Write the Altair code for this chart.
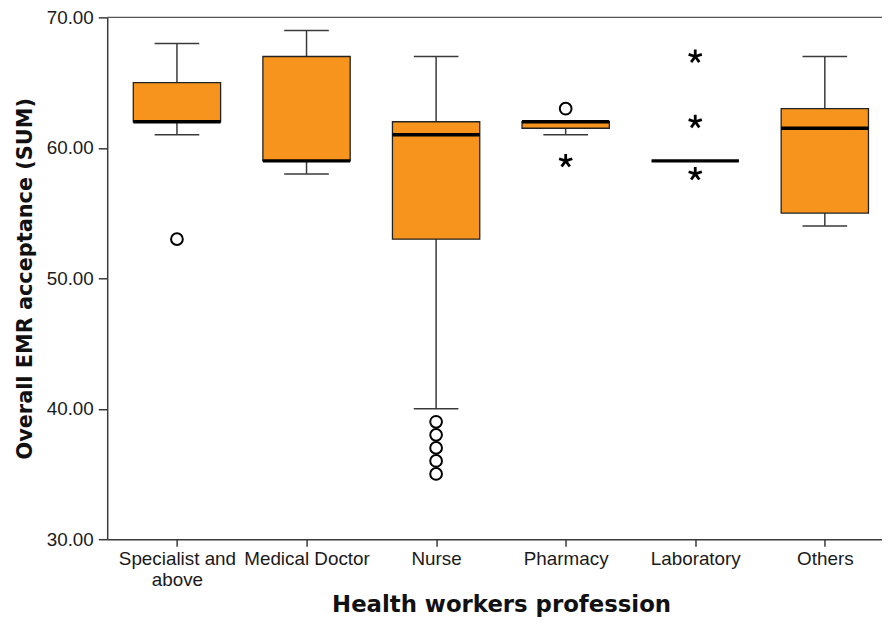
import json
import altair as alt
import pandas as pd

# ---- data ----
categories = ["Specialist and above", "Medical Doctor", "Nurse", "Pharmacy", "Laboratory", "Others"]
tick_labels = [["Specialist and", "above"], "Medical Doctor", "Nurse", "Pharmacy", "Laboratory", "Others"]
whisker_low = [61, 58, 40, 61, 59, 54]
q1 = [62, 59, 53, 61.5, 59, 55]
median = [62, 59, 61, 62, 59, 61.5]
q3 = [65, 67, 62, 62, 59, 63]
whisker_high = [68, 69, 67, 62, 59, 67]

outlier_group = ["Specialist and above", "Nurse", "Nurse", "Nurse", "Nurse", "Nurse", "Pharmacy"]
outlier_value = [53, 39, 38, 37, 36, 35, 63]

extreme_group = ["Pharmacy", "Laboratory", "Laboratory", "Laboratory"]
extreme_value = [59, 67, 62, 58]

idx = {c: i for i, c in enumerate(categories)}

box_df = pd.DataFrame({
    "group": categories,
    "pos": list(range(len(categories))),
    "lo": whisker_low, "q1": q1, "med": median, "q3": q3, "hi": whisker_high,
})
out_df = pd.DataFrame({"group": outlier_group, "value": outlier_value})
out_df["pos"] = out_df["group"].map(idx)
ext_df = pd.DataFrame({"group": extreme_group, "value": extreme_value})
ext_df["pos"] = ext_df["group"].map(idx)
frame_df = pd.DataFrame({"top": [70]})

# ---- styling ----
ORANGE = "#F7941D"
LINE = "#3a3a3a"
LABEL_FONT = "Liberation Sans"

x_scale = alt.Scale(domain=[-0.5, 5.403], nice=False, zero=False)
y_scale = alt.Scale(domain=[30, 70], nice=False, zero=False)

label_expr = json.dumps(tick_labels) + "[datum.value]"

x_axis = alt.Axis(
    title="Health workers profession",
    values=list(range(len(categories))),
    labelExpr=label_expr,
    grid=False,
    tickSize=7, tickColor=LINE, tickWidth=1.5,
    domainColor=LINE, domainWidth=1.5,
    labelFont=LABEL_FONT, labelFontSize=19, labelColor="#1a1a1a",
    labelPadding=4, labelLineHeight=21, labelAngle=0,
    labelAlign="center", labelBaseline="top", labelFlush=False, labelOverlap=False,
    titleFont="DejaVu Sans", titleFontSize=23, titleFontWeight="bold", titleColor="#111",
    titleX=397, titleY=73, titleBaseline="alphabetic", titleAlign="center",
)
y_axis = alt.Axis(
    title="Overall EMR acceptance (SUM)",
    values=[30, 40, 50, 60, 70],
    format=".2f",
    grid=False,
    tickSize=9, tickColor=LINE, tickWidth=1.5,
    domainColor=LINE, domainWidth=1.5,
    labelFont=LABEL_FONT, labelFontSize=19, labelColor="#1a1a1a", labelPadding=5,
    titleFont="DejaVu Sans", titleFontSize=21, titleFontWeight="bold", titleColor="#111",
    titleX=-72, titleY=263, titleBaseline="bottom", titleAlign="center",
)

base = alt.Chart(box_df)
x_enc = alt.X("pos:Q", scale=x_scale, axis=x_axis)

whiskers = base.mark_rule(color=LINE, strokeWidth=1.5).encode(
    x=x_enc,
    y=alt.Y("lo:Q", scale=y_scale, axis=y_axis),
    y2="hi:Q",
)
caps_low = base.mark_tick(orient="horizontal", size=45, thickness=1.5, color=LINE, opacity=1).encode(
    x=alt.X("pos:Q", scale=x_scale), y=alt.Y("lo:Q", scale=y_scale)
)
caps_high = base.mark_tick(orient="horizontal", size=45, thickness=1.5, color=LINE, opacity=1).encode(
    x=alt.X("pos:Q", scale=x_scale), y=alt.Y("hi:Q", scale=y_scale)
)
boxes = base.mark_bar(size=88, color=ORANGE, stroke="#222", strokeWidth=1.3, opacity=1).encode(
    x=alt.X("pos:Q", scale=x_scale),
    y=alt.Y("q1:Q", scale=y_scale),
    y2="q3:Q",
)
medians = base.mark_tick(orient="horizontal", size=88, thickness=3.5, color="black", opacity=1).encode(
    x=alt.X("pos:Q", scale=x_scale), y=alt.Y("med:Q", scale=y_scale)
)
outliers = alt.Chart(out_df).mark_point(
    shape="circle", filled=False, size=140, strokeWidth=2, color="black", opacity=1
).encode(x=alt.X("pos:Q", scale=x_scale), y=alt.Y("value:Q", scale=y_scale))

star_path = "M0,0L0,-1M0,0L0.951,-0.309M0,0L0.588,0.809M0,0L-0.588,0.809M0,0L-0.951,-0.309"
extremes = alt.Chart(ext_df).mark_point(
    shape=star_path, filled=False, size=196, strokeWidth=2.8, color="black", opacity=1
).encode(x=alt.X("pos:Q", scale=x_scale), y=alt.Y("value:Q", scale=y_scale))

top_frame = alt.Chart(frame_df).mark_rule(color="#555", strokeWidth=1.5).encode(
    y=alt.Y("top:Q", scale=y_scale)
)

chart = alt.layer(
    whiskers, caps_low, caps_high, boxes, medians, outliers, extremes, top_frame
).properties(
    width=781, height=526,
    autosize=alt.AutoSizeParams(type="none"),
    padding={"left": 100, "top": 7, "right": 0, "bottom": 80},
    background="white",
).configure_view(strokeWidth=0)

chart.save("out.html", embed_options={"renderer": "svg", "actions": False})
